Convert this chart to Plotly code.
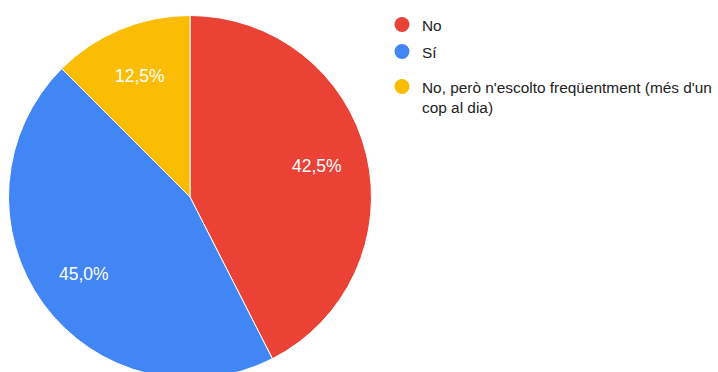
import math
import plotly.graph_objects as go

categories = ["No", "Sí", "No, però n'escolto freqüentment (més d'un<br>cop al dia)"]
values = [17, 18, 5]
colors = ["#EA4335", "#4285F4", "#FBBC04"]

W, H = 718, 384
cx, cy, r = 190, 197, 181.5
FONT = "Liberation Sans, Arial"

total = sum(values)
pcts = [v / total for v in values]

fig = go.Figure()
fig.add_trace(go.Pie(
    labels=categories, values=values, sort=False, direction="clockwise", rotation=0,
    marker=dict(colors=colors, line=dict(color="white", width=1)),
    # the two big slices are labelled with annotations below; the small one by plotly
    texttemplate=["", "", "%{percent:.1%}"], textposition="inside",
    insidetextorientation="horizontal",
    insidetextfont=dict(color="white", size=17.5, family=FONT),
    domain=dict(x=[(cx - r) / W, (cx + r) / W], y=[(H - cy - r) / H, (H - cy + r) / H]),
    showlegend=False, hoverinfo="label+percent",
))

# labels for the big slices, placed at the slice's mid angle
annotations = []
cum = 0.0
for i, p in enumerate(pcts):
    mid = (cum + p / 2) * 2 * math.pi
    cum += p
    if i == 2:
        continue
    px = cx + 0.72 * r * math.sin(mid)
    py = cy - 0.72 * r * math.cos(mid)
    annotations.append(dict(
        x=px / W, y=1 - py / H, xref="paper", yref="paper", showarrow=False,
        text=f"{p * 100:.1f}%".replace(".", ","),
        font=dict(color="white", size=17.5, family=FONT),
        xanchor="center", yanchor="middle"))

legend_ids = ["legend", "legend", "legend2"]
for i, (lab, col) in enumerate(zip(categories, colors)):
    fig.add_trace(go.Scatter(x=[None], y=[None], mode="markers", name=lab,
                             legendgroup=str(i), legend=legend_ids[i],
                             marker=dict(color=col, size=15, symbol="circle")))

leg_common = dict(xanchor="left", yanchor="top", valign="top",
                  font=dict(size=15.4, color="#222222", family=FONT),
                  bgcolor="rgba(0,0,0,0)")
fig.update_layout(
    width=W, height=H, margin=dict(l=0, r=0, t=0, b=0),
    paper_bgcolor="white", plot_bgcolor="white",
    separators=",.",
    font=dict(family=FONT, size=15.4, color="#222222"),
    xaxis=dict(visible=False), yaxis=dict(visible=False),
    annotations=annotations,
    legend=dict(x=382 / W, y=1 - 8 / H, tracegroupgap=4, **leg_common),
    legend2=dict(x=382 / W, y=1 - 70 / H, **leg_common),
)
fig.write_html("out.html", post_script="document.body.style.overflow='hidden';document.documentElement.style.overflow='hidden';document.body.style.margin='0';")
